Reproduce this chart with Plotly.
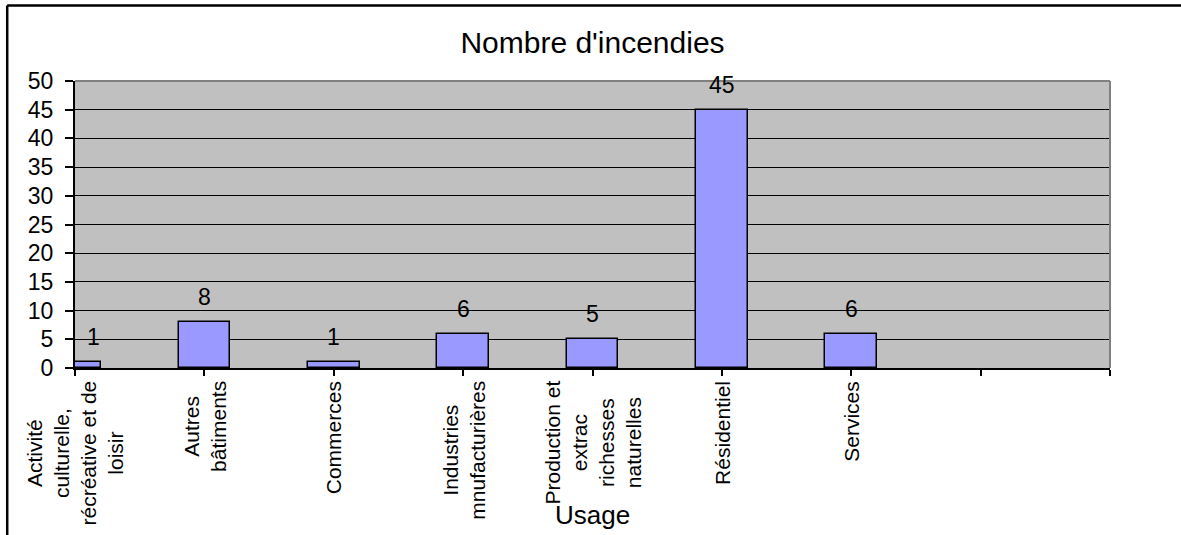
import plotly.graph_objects as go

# ---- data ----
categories = [
    "Activité<br>culturelle,<br>récréative et de<br>loisir",
    "Autres<br>bâtiments",
    "Commerces",
    "Industries<br>mnufacturières",
    "Production et<br>extrac<br>richesses<br>naturelles",
    "Résidentiel",
    "Services",
]
values = [1, 8, 1, 6, 5, 45, 6]
y_ticks = list(range(0, 51, 5))
title_text = "Nombre d'incendies"
x_title = "Usage"

positions = list(range(len(categories)))
n_slots = 8  # axis spans 8 category intervals (two empty slots at the right)
bar_width = 0.4

FONT = "Liberation Sans, Arial, sans-serif"

fig = go.Figure()
fig.add_trace(go.Bar(
    x=positions, y=values, width=bar_width,
    marker=dict(color="#9999FF", line=dict(color="black", width=1.5)),
    hoverinfo="x+y", showlegend=False,
))

annotations = []
# data labels
for i, v in zip(positions, values):
    xpos = i if i > 0 else bar_width * 0.35  # first bar is half clipped; label at visible centre
    annotations.append(dict(
        x=xpos, y=v, xref="x", yref="y", text=str(v), showarrow=False,
        yanchor="middle", yshift=25, font=dict(size=23, color="black", family=FONT),
    ))
# category labels (rotated, centred lines)
for i, c in zip(positions, categories):
    annotations.append(dict(
        x=i, y=0, xref="x", yref="paper", text=c, showarrow=False,
        textangle=-90, align="center", xanchor="center", yanchor="top", yshift=-11,
        font=dict(size=21, color="black", family=FONT),
    ))
# axis title
annotations.append(dict(
    x=0.5, y=-0.512, xref="paper", yref="paper", text=x_title, showarrow=False,
    xanchor="center", yanchor="middle", font=dict(size=26, color="black", family=FONT),
))

shapes = [
    # outer chart frame: only top and left edges are visible in the image
    dict(type="line", xref="paper", yref="paper", x0=-0.0655, x1=1.1, y0=1.2635, y1=1.2635,
         line=dict(color="black", width=2.5), layer="below"),
    dict(type="line", xref="paper", yref="paper", x0=-0.0655, x1=-0.0655, y0=-0.7, y1=1.2635,
         line=dict(color="black", width=2.5), layer="below"),
    # grey top and right plot-area borders
    dict(type="line", xref="paper", yref="paper", x0=0, x1=1, y0=1, y1=1,
         line=dict(color="#808080", width=2), layer="above"),
    dict(type="line", xref="paper", yref="paper", x0=1, x1=1, y0=0, y1=1,
         line=dict(color="#808080", width=2), layer="above"),
]

fig.update_layout(
    width=1181, height=535,
    margin=dict(l=75, r=71, t=81, b=167),
    paper_bgcolor="white", plot_bgcolor="#C0C0C0",
    font=dict(family=FONT, color="black"),
    title=dict(text=title_text, x=0.5, xref="paper", xanchor="center",
               y=1 - 42 / 535, yref="container", yanchor="middle",
               font=dict(size=30, color="black", family=FONT)),
    bargap=0,
    annotations=annotations,
    shapes=shapes,
    xaxis=dict(
        range=[0, n_slots], tickvals=list(range(n_slots + 1)), showticklabels=False,
        ticks="outside", ticklen=6, tickwidth=1.5, tickcolor="black",
        showline=True, linecolor="black", linewidth=2, showgrid=False, zeroline=False,
        fixedrange=True,
    ),
    yaxis=dict(
        range=[0, 50], tickvals=y_ticks, ticks="outside", ticklen=8, tickwidth=1.5,
        tickcolor="black", showline=True, linecolor="black", linewidth=2,
        showgrid=True, gridcolor="black", gridwidth=1, zeroline=False,
        tickfont=dict(size=23, color="black", family=FONT), fixedrange=True,
        ticklabelstandoff=7,
    ),
)

fig.write_html(
    "out.html",
    config={"displayModeBar": False},
    post_script="document.body.style.margin='0';document.body.style.overflow='hidden';",
)
